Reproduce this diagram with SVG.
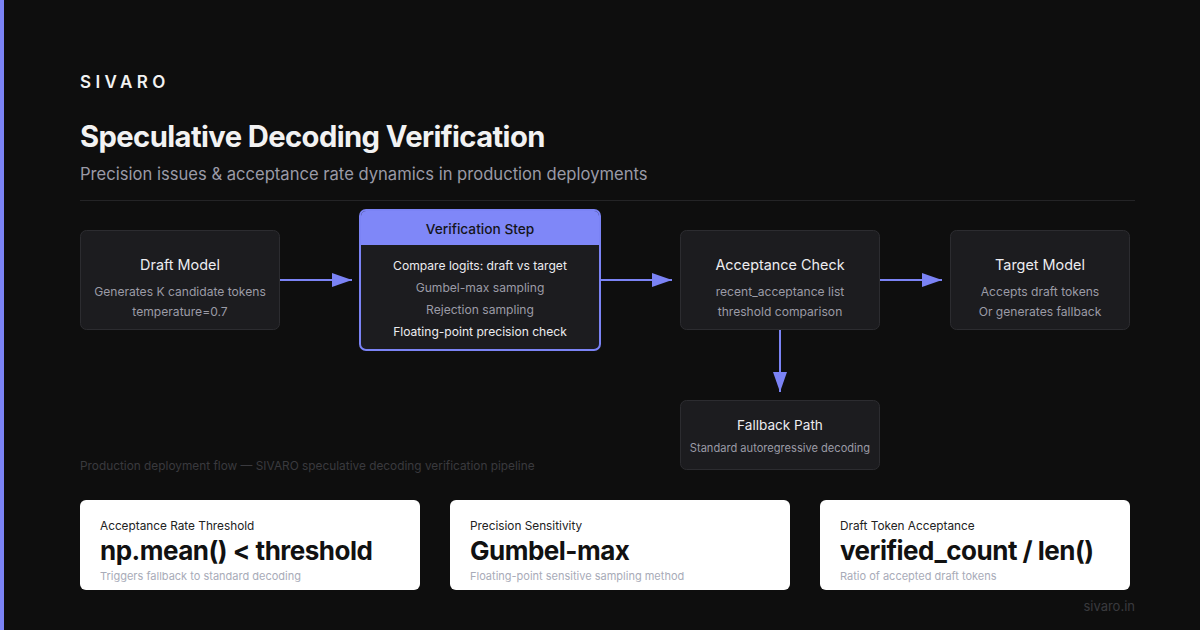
<svg xmlns="http://www.w3.org/2000/svg" width="1200" height="630" viewBox="0 0 1200 630">
<defs>
<style>
text{font-family:Inter,"Liberation Sans",sans-serif}
.node{fill:#1c1c1f;stroke:#2c2c30;stroke-width:1}
.nt{fill:#ececf0;font-size:14.4px;text-anchor:middle}
.ns{fill:#9b9ba6;font-size:12.1px;text-anchor:middle}
.nw{fill:#ececf0;font-size:12.1px;text-anchor:middle}
.conn{stroke:#7b83f5;stroke-width:2;fill:none}
.card{fill:#ffffff}
.cl{fill:#222;font-size:11.8px}
.cv{fill:#111;font-size:26px;font-weight:700;letter-spacing:-0.5px}
.cs{fill:#a8abb8;font-size:11px}
</style>
<marker id="ahb" viewBox="0 0 20 14" refX="20" refY="7" markerWidth="20" markerHeight="14" markerUnits="userSpaceOnUse" orient="auto"><path d="M0,0 L20,7 L0,14 Z" fill="#7b83f5"/></marker>
</defs>
<rect width="1200" height="630" fill="#0e0e0e"/>
<rect x="0" y="0" width="4" height="630" fill="#7b83f5"/>
<text x="80" y="88" fill="#f2f2f2" font-size="17" font-weight="600" letter-spacing="4.4">SIVARO</text>
<text x="80" y="147" fill="#f2f2f2" font-size="29.2" font-weight="700" letter-spacing="-0.6">Speculative Decoding Verification</text>
<text x="80" y="180" fill="#9a9aa6" font-size="16.6">Precision issues &amp; acceptance rate dynamics in production deployments</text>
<line x1="80" y1="200.5" x2="1135" y2="200.5" stroke="#242426" stroke-width="1"/>
<g id="connectors">
<line class="conn" x1="280" y1="280" x2="352" y2="280" marker-end="url(#ahb)"/>
<line class="conn" x1="600" y1="280" x2="672" y2="280" marker-end="url(#ahb)"/>
<line class="conn" x1="880" y1="280" x2="942" y2="280" marker-end="url(#ahb)"/>
<line class="conn" x1="780" y1="330" x2="780" y2="392" marker-end="url(#ahb)"/>
</g>
<g id="draft-model">
<rect class="node" x="80.5" y="230.5" width="199" height="99" rx="6"/>
<text class="nt" x="180" y="270">Draft Model</text>
<text class="ns" x="180" y="296">Generates K candidate tokens</text>
<text class="ns" x="180" y="316">temperature=0.7</text>
</g>
<g id="verification-step">
<rect x="360" y="210" width="240" height="140" rx="6" fill="#1c1c1f" stroke="#7b83f5" stroke-width="2"/>
<path d="M361,245 V216 A5,5 0 0 1 366,211 H594 A5,5 0 0 1 599,216 V245 Z" fill="#7f87f8"/>
<text x="480" y="234" fill="#15151a" font-size="13.7" font-weight="500" text-anchor="middle">Verification Step</text>
<text class="nw" x="480" y="270">Compare logits: draft vs target</text>
<text class="ns" x="480" y="292">Gumbel-max sampling</text>
<text class="ns" x="480" y="314">Rejection sampling</text>
<text class="nw" x="480" y="336">Floating-point precision check</text>
</g>
<g id="acceptance-check">
<rect class="node" x="680.5" y="230.5" width="199" height="99" rx="6"/>
<text class="nt" x="780" y="270">Acceptance Check</text>
<text class="ns" x="780" y="296">recent_acceptance list</text>
<text class="ns" x="780" y="316">threshold comparison</text>
</g>
<g id="target-model">
<rect class="node" x="950.5" y="230.5" width="179" height="99" rx="6"/>
<text class="nt" x="1040" y="270">Target Model</text>
<text class="ns" x="1040" y="296">Accepts draft tokens</text>
<text class="ns" x="1040" y="316">Or generates fallback</text>
</g>
<g id="fallback-path">
<rect class="node" x="680.5" y="400.5" width="199" height="69" rx="6"/>
<text class="nt" x="780" y="430" style="font-size:13.6px">Fallback Path</text>
<text class="ns" x="780" y="452" style="font-size:11.1px">Standard autoregressive decoding</text>
</g>
<text x="80" y="470" fill="#3a3a3e" font-size="11.85">Production deployment flow — SIVARO speculative decoding verification pipeline</text>
<g id="card-threshold">
<rect class="card" x="80" y="500" width="340" height="90" rx="6"/>
<text class="cl" x="100" y="530">Acceptance Rate Threshold</text>
<text class="cv" x="100" y="560">np.mean() &lt; threshold</text>
<text class="cs" x="100" y="580">Triggers fallback to standard decoding</text>
</g>
<g id="card-precision">
<rect class="card" x="450" y="500" width="340" height="90" rx="6"/>
<text class="cl" x="470" y="530">Precision Sensitivity</text>
<text class="cv" x="470" y="560">Gumbel-max</text>
<text class="cs" x="470" y="580">Floating-point sensitive sampling method</text>
</g>
<g id="card-acceptance">
<rect class="card" x="820" y="500" width="310" height="90" rx="6"/>
<text class="cl" x="840" y="530">Draft Token Acceptance</text>
<text class="cv" x="840" y="560">verified_count / len()</text>
<text class="cs" x="840" y="580">Ratio of accepted draft tokens</text>
</g>
<text x="1135" y="611" fill="#3a3a3e" font-size="13" text-anchor="end">sivaro.in</text>
</svg>
